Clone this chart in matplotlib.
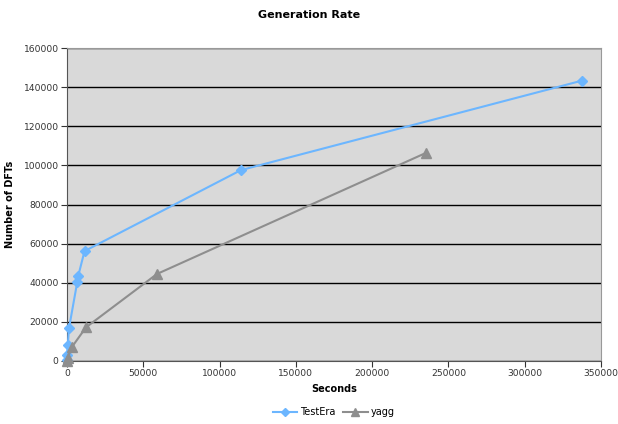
import matplotlib
matplotlib.use("Agg")
import matplotlib.pyplot as plt

# TestEra series (seconds, number of DFTs)
testera_x = [0, 200, 500, 1300, 6750, 7400, 11500, 114000, 337300]
testera_y = [500, 3000, 8000, 16700, 40500, 43600, 56200, 97600, 143300]

# yagg series
yagg_x = [0, 500, 3080, 12450, 59000, 235000]
yagg_y = [200, 1500, 7000, 17200, 44500, 106300]

x_ticks = [0, 50000, 100000, 150000, 200000, 250000, 300000, 350000]
y_ticks = [0, 20000, 40000, 60000, 80000, 100000, 120000, 140000, 160000]

COLOR_BLUE = "#6cb6ff"
COLOR_GRAY = "#8e8e8e"
COLOR_BG = "#d9d9d9"

plt.rcParams["font.family"] = "DejaVu Sans"

fig = plt.figure(figsize=(6.18, 4.24), dpi=100)
ax = fig.add_axes([0.1084, 0.1486, 0.864, 0.738])
ax.set_facecolor(COLOR_BG)

ax.plot(testera_x, testera_y, color=COLOR_BLUE, linewidth=1.5, marker="D",
        markersize=5, label="TestEra", clip_on=False, zorder=3)
ax.plot(yagg_x, yagg_y, color=COLOR_GRAY, linewidth=1.5, marker="^",
        markersize=7, label="yagg", clip_on=False, zorder=3)

ax.set_xlim(0, 350000)
ax.set_ylim(0, 160000)
ax.set_xticks(x_ticks)
ax.set_yticks(y_ticks)
ax.yaxis.grid(True, color="black", linewidth=1)
ax.set_axisbelow(True)
ax.tick_params(labelsize=6.6, length=4, direction="out", colors="#333333")
ax.tick_params(axis="x", pad=2)
ax.tick_params(axis="y", pad=2)
for s in ["left", "bottom"]:
    ax.spines[s].set_color("#555555")
for s in ["top", "right"]:
    ax.spines[s].set_color("#999999")

ax.set_xlabel("Seconds", fontsize=7, fontweight="bold", labelpad=4)
ax.set_ylabel("Number of DFTs", fontsize=7, fontweight="bold", labelpad=6)
fig.text(0.5, 0.965, "Generation Rate", ha="center", va="center",
         fontsize=8, fontweight="bold")

fig.legend(loc="center", bbox_to_anchor=(0.54, 0.028), ncol=2, frameon=False,
           fontsize=7, handlelength=2.5, columnspacing=0.8, handletextpad=0.3,
           markerscale=0.75)

fig.savefig("out.png", dpi=100, facecolor="white")
